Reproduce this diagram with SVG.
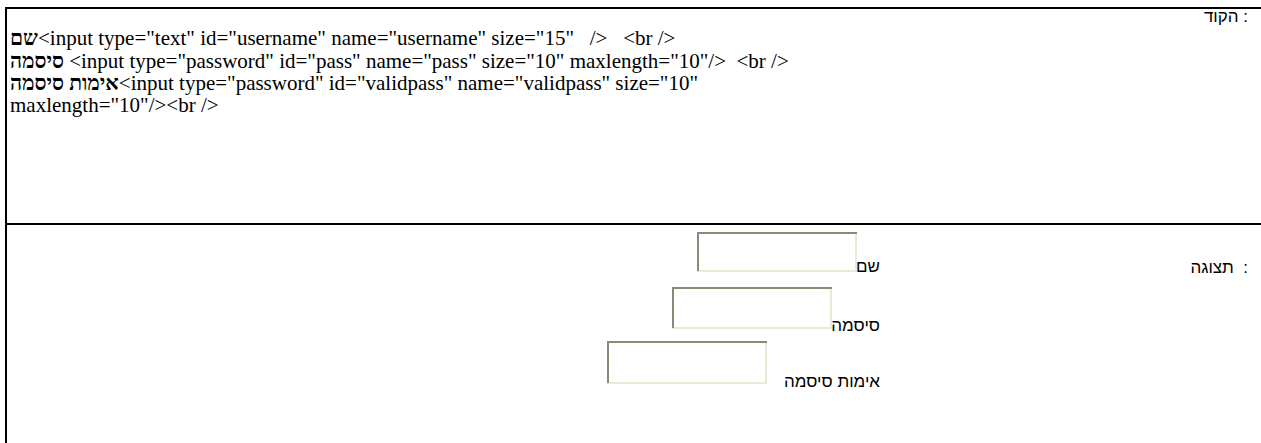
<svg xmlns="http://www.w3.org/2000/svg" width="1261" height="443" viewBox="0 0 1261 443">
<style>
.frame{stroke:#000;stroke-width:2;fill:none}
.code{font-family:"Liberation Serif","Noto Sans",serif;font-size:21px;fill:#000;white-space:pre}
.he{font-weight:bold}
.lbl{font-family:"Liberation Sans","Noto Sans",sans-serif;font-size:17px;fill:#000;white-space:pre}
.field{fill:#fff;stroke:none}
.dark{fill:none;stroke:#8b8979;stroke-width:2}
.light{fill:none;stroke:#ece9d8;stroke-width:2}
</style>
<rect width="1261" height="443" fill="#fff"/>
<g id="connectors">
  <line class="frame" x1="6" y1="8" x2="1261" y2="8"/>
  <line class="frame" x1="6" y1="7" x2="6" y2="443"/>
  <line class="frame" x1="6" y1="224" x2="1261" y2="224"/>
</g>
<g id="code-section">
  <text class="lbl" x="1248" y="22" text-anchor="end">הקוד :</text>
  <text class="code" x="10" y="45"><tspan class="he">שם</tspan>&lt;input type="text" id="username" name="username" size="15"   /&gt;   &lt;br /&gt;</text>
  <text class="code" x="10" y="68"><tspan class="he">סיסמה</tspan> &lt;input type="password" id="pass" name="pass" size="10" maxlength="10"/&gt;  &lt;br /&gt;</text>
  <text class="code" x="10" y="90"><tspan class="he">אימות סיסמה</tspan>&lt;input type="password" id="validpass" name="validpass" size="10"</text>
  <text class="code" x="10" y="112">maxlength="10"/&gt;&lt;br /&gt;</text>
</g>
<g id="display-section">
  <text class="lbl" x="1248" y="273" text-anchor="end">תצוגה  :</text>
</g>
<g id="field-username">
  <rect class="field" x="697" y="232" width="160" height="40"/>
  <polyline class="light" points="697,271 856,271 856,232"/>
  <polyline class="dark" points="698,271 698,233 857,233"/>
  <text class="lbl" x="880" y="272" text-anchor="end">שם</text>
</g>
<g id="field-pass">
  <rect class="field" x="672" y="287" width="160" height="42"/>
  <polyline class="light" points="672,328 831,328 831,287"/>
  <polyline class="dark" points="673,328 673,288 832,288"/>
  <text class="lbl" x="880" y="331" text-anchor="end">סיסמה</text>
</g>
<g id="field-validpass">
  <rect class="field" x="607" y="341" width="160" height="43"/>
  <polyline class="light" points="607,383 766,383 766,341"/>
  <polyline class="dark" points="608,383 608,342 767,342"/>
  <text class="lbl" x="880" y="387" text-anchor="end">אימות סיסמה</text>
</g>
</svg>
